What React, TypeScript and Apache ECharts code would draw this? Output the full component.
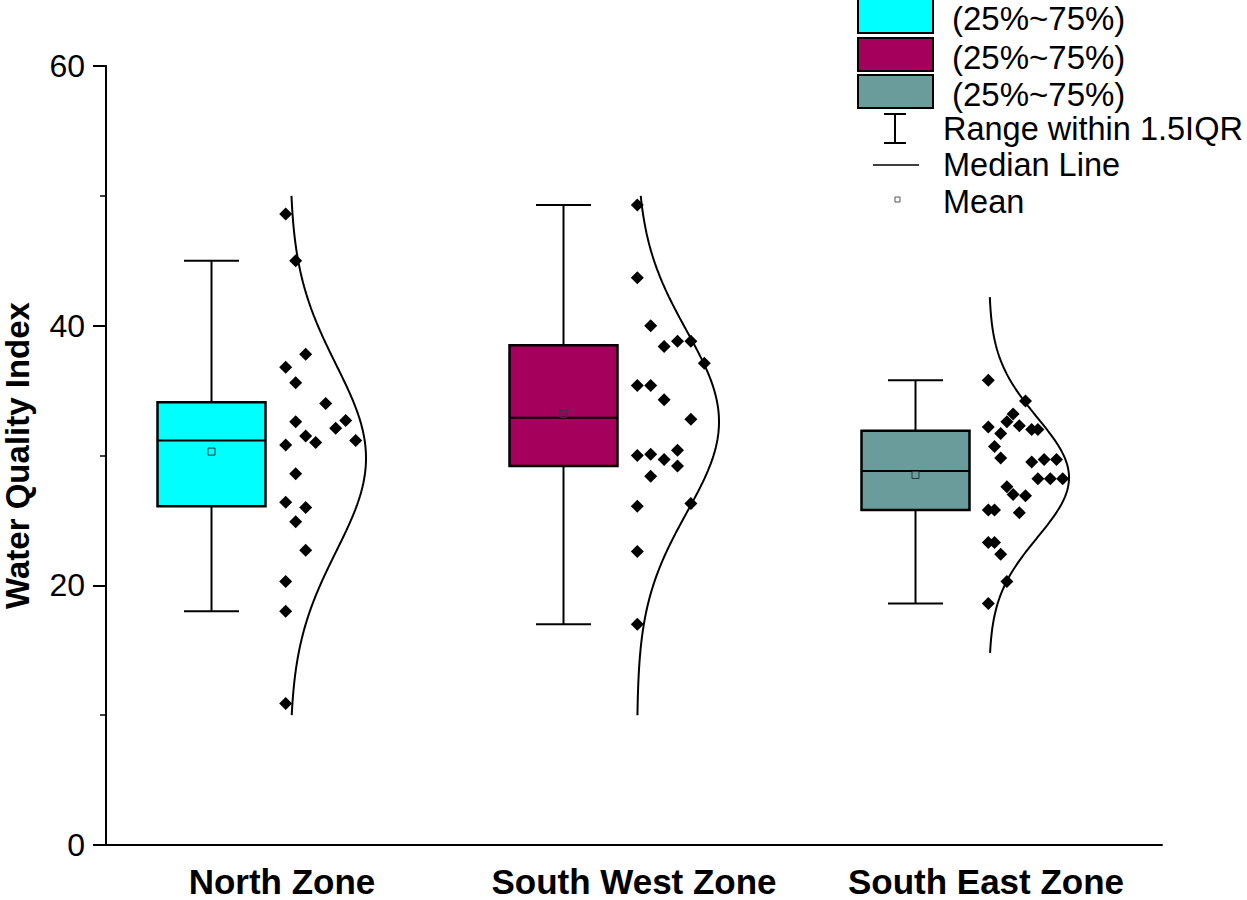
import React, { useEffect, useRef } from "react";
import * as echarts from "echarts";

// ---------- data ----------
const categories = ["North Zone", "South West Zone", "South East Zone"];
const yTicks = [0, 20, 40, 60];

// [lower whisker, Q1, median, Q3, upper whisker]
const northBox = [18.0, 26.1, 31.15, 34.1, 45.0];
const southWestBox = [17.0, 29.2, 32.9, 38.5, 49.3];
const southEastBox = [18.6, 25.8, 28.8, 31.9, 35.8];
const means = [30.3, 33.2, 28.5];

const northPoints = [48.6, 45.0, 37.8, 36.8, 35.6, 34.0, 32.7, 32.6, 32.1, 31.5, 31.15, 31.0, 30.8, 28.6, 26.4, 26.0, 24.9, 22.7, 20.3, 18.0, 10.9];
const northCols = [0, 1, 2, 0, 1, 4, 6, 1, 5, 2, 7, 3, 0, 1, 0, 2, 1, 2, 0, 0, 0];

const southWestPoints = [49.3, 43.7, 40.0, 38.4, 38.8, 38.8, 37.1, 35.4, 35.4, 34.3, 32.8, 30.4, 30.0, 30.1, 29.7, 29.2, 28.4, 26.1, 26.3, 22.6, 17.0];
const southWestCols = [0, 0, 1, 2, 3, 4, 5, 0, 1, 2, 4, 3, 0, 1, 2, 3, 1, 0, 4, 0, 0];

const southEastPoints = [35.8, 34.2, 33.2, 32.6, 32.3, 32.2, 32.0, 32.0, 31.7, 30.7, 29.8, 29.5, 29.7, 29.7, 28.2, 28.2, 28.2, 27.6, 27.0, 26.9, 25.6, 25.8, 25.8, 23.3, 23.3, 22.4, 20.3, 18.6];
const southEastCols = [0, 6, 4, 3, 5, 0, 7, 8, 2, 1, 2, 7, 9, 11, 8, 10, 12, 3, 4, 6, 5, 0, 1, 0, 1, 2, 3, 0];

// normal curve parameters: mean, sd, y-range
const curveMu = [29.8, 32.6, 28.3];
const curveSigma = [7.2, 7.0, 4.6];
const curveLo = [10, 10, 14.8];
const curveHi = [50, 50, 42.2];

// ---------- layout / style ----------
const boxColors = ["#00FFFF", "#A5005B", "#6B9C9C"];
const GRID = { left: 106, right: 85, top: 66, bottom: 55 };
const UNIT = (1247 - GRID.left - GRID.right) / 3; // px per category
const BOX_OFFSET = -70.5; // px from category centre
const BOX_W = 108;
const CAP_W = 55;
const POINT_START = [3.7, 3.3, 2.3];
const POINT_STEP = [10, 13.4, 6.2];
const CURVE_BASE = [8, 3, 3];
const CURVE_AMP = [76, 82, 80];
const FONT = "'Liberation Sans', Arial, sans-serif";

export default function App() {
  const ref = useRef<HTMLDivElement>(null);

  useEffect(() => {
    if (!ref.current) return;
    const chart = echarts.init(ref.current, undefined, { renderer: "svg" });

    const boxes = [northBox, southWestBox, southEastBox];
    const pointSets = [northPoints, southWestPoints, southEastPoints];
    const colSets = [northCols, southWestCols, southEastCols];

    const boxData = boxes.map((b, i) => [i + BOX_OFFSET / UNIT, ...b, means[i], i]);

    const scatterSeries = pointSets.map((pts, i) => ({
      type: "scatter",
      xAxisIndex: 1,
      symbol: "diamond",
      symbolSize: 13,
      itemStyle: { color: "#000", opacity: 1 },
      data: pts.map((v, k) => [i + (POINT_START[i] + colSets[i][k] * POINT_STEP[i]) / UNIT, v]),
      z: 5,
    }));

    const curveSeries = categories.map((_, i) => {
      const data: number[][] = [];
      const steps = 200;
      for (let s = 0; s <= steps; s++) {
        const y = curveLo[i] + ((curveHi[i] - curveLo[i]) * s) / steps;
        const z = (y - curveMu[i]) / curveSigma[i];
        const px = CURVE_BASE[i] + CURVE_AMP[i] * Math.exp(-0.5 * z * z);
        data.push([i + px / UNIT, y]);
      }
      return {
        type: "line",
        xAxisIndex: 1,
        showSymbol: false,
        symbol: "none",
        smooth: false,
        lineStyle: { color: "#000", width: 2 },
        data,
        z: 4,
      };
    });

    const boxSeries = {
      type: "custom",
      xAxisIndex: 1,
      data: boxData,
      z: 3,
      renderItem: (params: any, api: any) => {
        const x = api.value(0);
        const lo = api.coord([x, api.value(1)]);
        const q1 = api.coord([x, api.value(2)]);
        const med = api.coord([x, api.value(3)]);
        const q3 = api.coord([x, api.value(4)]);
        const hi = api.coord([x, api.value(5)]);
        const mean = api.coord([x, api.value(6)]);
        const idx = api.value(7);
        const cx = lo[0];
        const stroke = { stroke: "#000", lineWidth: 2 };
        return {
          type: "group",
          children: [
            { type: "line", shape: { x1: cx, y1: hi[1], x2: cx, y2: q3[1] }, style: stroke },
            { type: "line", shape: { x1: cx - CAP_W / 2, y1: hi[1], x2: cx + CAP_W / 2, y2: hi[1] }, style: stroke },
            { type: "line", shape: { x1: cx, y1: q1[1], x2: cx, y2: lo[1] }, style: stroke },
            { type: "line", shape: { x1: cx - CAP_W / 2, y1: lo[1], x2: cx + CAP_W / 2, y2: lo[1] }, style: stroke },
            {
              type: "rect",
              shape: { x: cx - BOX_W / 2, y: q3[1], width: BOX_W, height: q1[1] - q3[1] },
              style: { fill: boxColors[idx], stroke: "#000", lineWidth: 2.5 },
            },
            { type: "line", shape: { x1: cx - BOX_W / 2, y1: med[1], x2: cx + BOX_W / 2, y2: med[1] }, style: stroke },
            {
              type: "rect",
              shape: { x: cx - 3.5, y: mean[1] - 3.5, width: 7, height: 7 },
              style: { fill: "none", stroke: "#2a3a3a", lineWidth: 1 },
            },
          ],
        };
      },
    };

    const legendY = [-1, 38, 75];
    const legendGraphics: any[] = [];
    legendY.forEach((y, i) => {
      legendGraphics.push({
        type: "rect",
        shape: { x: 858, y, width: 75, height: i === 0 ? 34 : 33 },
        style: { fill: boxColors[i], stroke: "#000", lineWidth: 2 },
      });
      legendGraphics.push({
        type: "text",
        x: 952,
        y: y + 19,
        style: { text: "(25%~75%)", font: `33px ${FONT}`, fill: "#000", verticalAlign: "middle", lineHeight: 30 },
      });
    });
    legendGraphics.push(
      { type: "line", shape: { x1: 895, y1: 114, x2: 895, y2: 143 }, style: { stroke: "#000", lineWidth: 2 } },
      { type: "line", shape: { x1: 884, y1: 114, x2: 906, y2: 114 }, style: { stroke: "#000", lineWidth: 2 } },
      { type: "line", shape: { x1: 884, y1: 143, x2: 906, y2: 143 }, style: { stroke: "#000", lineWidth: 2 } },
      { type: "text", x: 943, y: 129, style: { text: "Range within 1.5IQR", font: `32.5px ${FONT}`, fill: "#000", verticalAlign: "middle" } },
      { type: "line", shape: { x1: 873, y1: 165, x2: 919, y2: 165 }, style: { stroke: "#000", lineWidth: 1.5 } },
      { type: "text", x: 943, y: 165, style: { text: "Median Line", font: `32.5px ${FONT}`, fill: "#000", verticalAlign: "middle" } },
      { type: "rect", shape: { x: 895, y: 197, width: 5, height: 5 }, style: { fill: "none", stroke: "#555", lineWidth: 1 } },
      { type: "text", x: 943, y: 202, style: { text: "Mean", font: `32.5px ${FONT}`, fill: "#000", verticalAlign: "middle" } }
    );

    chart.setOption({
      animation: false,
      backgroundColor: "#fff",
      grid: { ...GRID, containLabel: false, outerBoundsMode: "none" },
      xAxis: [
        {
          type: "category",
          data: categories,
          boundaryGap: true,
          axisLine: { onZero: false, lineStyle: { color: "#000", width: 2 } },
          axisTick: { alignWithLabel: true, length: 11, lineStyle: { color: "#000", width: 2 } },
          axisLabel: {
            color: "#000",
            fontSize: 35,
            fontWeight: "bold",
            fontFamily: FONT,
            margin: 19,
            lineHeight: 34,
            interval: 0,
          },
          splitLine: { show: false },
        },
        { type: "value", min: -0.5, max: 2.5, show: false },
      ],
      yAxis: {
        type: "value",
        min: 0,
        max: 60,
        interval: 20,
        name: "Water Quality Index",
        nameLocation: "middle",
        nameGap: 72,
        nameTextStyle: { color: "#000", fontSize: 33, fontWeight: "bold", fontFamily: FONT },
        axisLine: { show: true, onZero: false, lineStyle: { color: "#000", width: 2 } },
        axisTick: { show: true, length: 13, lineStyle: { color: "#000", width: 2 } },
        minorTick: { show: true, splitNumber: 2, length: 6, lineStyle: { color: "#000", width: 1.5 } },
        axisLabel: {
          color: "#000",
          fontSize: 32,
          fontFamily: FONT,
          margin: 21,
          formatter: (v: number) => (yTicks.includes(v) ? String(v) : ""),
        },
        splitLine: { show: false },
      },
      graphic: legendGraphics,
      series: [boxSeries, ...curveSeries, ...scatterSeries],
    });

    return () => chart.dispose();
  }, []);

  return (
    <div
      ref={ref}
      style={{ position: "fixed", left: 0, top: 0, width: 1247, height: 900, background: "#fff" }}
    />
  );
}
